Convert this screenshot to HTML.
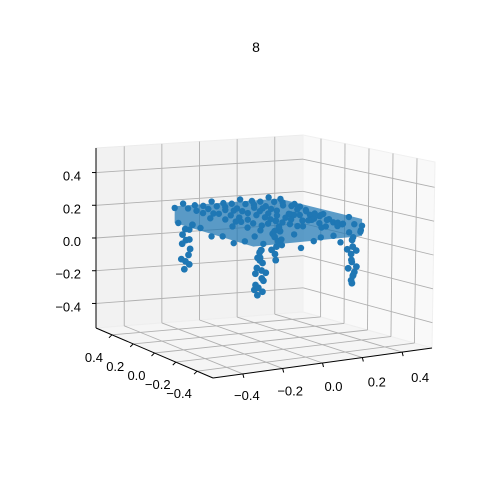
<!DOCTYPE html>
<html><head><meta charset="utf-8">
<style>
html,body{margin:0;padding:0;background:#fff;}
svg{display:block;font-family:"Liberation Sans","DejaVu Sans",sans-serif;}
</style></head>
<body>
<svg id="chart" width="500" height="500" viewBox="0 0 500 500" xmlns="http://www.w3.org/2000/svg">
<rect width="500" height="500" fill="#fff"/>
<text x="256" y="52" text-anchor="middle" font-size="14" fill="#000">8</text>
<g id="panes"></g><g id="grid"></g><g id="axes"></g><g id="slab"></g><g id="pts"></g>
</svg>
<script>
const ticks = [-0.4, -0.2, 0.0, 0.2, 0.4];
const tickLabels = ["\u22120.4", "\u22120.2", "0.0", "0.2", "0.4"];
const topPts = [
[-0.25,-0.37,0.17],[-0.2,-0.36,0.12],[-0.15,-0.37,0.19],[-0.1,-0.35,0.1],[-0.05,-0.37,0.16],[0,-0.36,0.2],[0.05,-0.37,0.11],[0.1,-0.35,0.18],[0.15,-0.37,0.13],[0.2,-0.36,0.19],[0.25,-0.37,0.11],[0.3,-0.36,0.17],
[-0.22,-0.38,0.09],[-0.12,-0.38,0.14],[-0.02,-0.38,0.08],[0.08,-0.38,0.13],[0.18,-0.38,0.09],[0.28,-0.38,0.14],
[-0.23,-0.27,0.2],[-0.17,-0.28,0.18],[-0.12,-0.26,0.21],[-0.07,-0.27,0.19],[-0.02,-0.28,0.2],[0.03,-0.26,0.18],[0.08,-0.27,0.21],[0.13,-0.28,0.19],[0.18,-0.26,0.2],[0.23,-0.27,0.18],[0.28,-0.28,0.21],[0.32,-0.26,0.16],
[-0.25,-0.17,0.19],[-0.2,-0.16,0.21],[-0.15,-0.18,0.2],[-0.1,-0.17,0.18],[-0.05,-0.16,0.21],[0,-0.18,0.19],[0.05,-0.17,0.2],[0.1,-0.16,0.22],[0.15,-0.18,0.19],[0.2,-0.17,0.21],[0.25,-0.16,0.18],[0.31,-0.18,0.15],
[-0.23,-0.07,0.21],[-0.17,-0.06,0.19],[-0.12,-0.08,0.2],[-0.07,-0.07,0.22],[-0.02,-0.06,0.2],[0.03,-0.08,0.21],[0.08,-0.07,0.19],[0.13,-0.06,0.2],[0.18,-0.08,0.22],[0.23,-0.07,0.2],[0.28,-0.06,0.19],[0.32,-0.08,0.14],
[-0.25,0.03,0.2],[-0.2,0.04,0.22],[-0.15,0.02,0.21],[-0.1,0.03,0.19],[-0.05,0.04,0.21],[0,0.02,0.22],[0.05,0.03,0.2],[0.1,0.04,0.21],[0.15,0.02,0.19],[0.2,0.03,0.21],[0.25,0.04,0.2],[0.31,0.02,0.16],
[-0.23,0.13,0.21],[-0.17,0.14,0.2],[-0.12,0.12,0.22],[-0.07,0.13,0.21],[-0.02,0.14,0.2],[0.03,0.12,0.22],[0.08,0.13,0.21],[0.13,0.14,0.2],[0.18,0.12,0.22],[0.23,0.13,0.21],[0.28,0.14,0.2],[0.32,0.12,0.15],
[-0.25,0.23,0.22],[-0.2,0.24,0.2],[-0.15,0.22,0.21],[-0.1,0.23,0.22],[-0.05,0.24,0.21],[0,0.22,0.2],[0.05,0.23,0.22],[0.1,0.24,0.21],[0.15,0.22,0.2],[0.2,0.23,0.22],[0.25,0.24,0.21],[0.3,0.22,0.2],
[-0.25,0.35,0.2],[-0.2,0.36,0.22],[-0.15,0.34,0.21],[-0.1,0.35,0.2],[-0.05,0.36,0.22],[0,0.34,0.21],[0.05,0.35,0.2],[0.1,0.36,0.22],[0.15,0.34,0.21],[0.2,0.35,0.2],[0.25,0.36,0.22],[0.3,0.34,0.21],
[-0.26,0.3,0.12],[-0.26,0.2,0.1],[-0.26,0.1,0.13],[-0.26,0,0.1],[-0.26,-0.1,0.12],[-0.26,-0.2,0.1],[-0.26,-0.3,0.13],
[0.33,0.3,0.12],[0.33,0.2,0.1],[0.33,0.1,0.13],[0.33,0,0.1],[0.33,-0.1,0.12],[0.33,-0.2,0.1],[0.33,-0.3,0.13]
];
const legPts = [
[-0.21,-0.33,-0.18],[-0.19,-0.34,-0.16],[-0.2,-0.32,-0.14],[-0.22,-0.33,-0.12],[-0.18,-0.33,-0.1],[-0.2,-0.35,-0.08],[-0.21,-0.31,-0.06],[-0.19,-0.33,-0.04],[-0.22,-0.34,-0.02],[-0.18,-0.32,0],[-0.2,-0.33,0.02],[-0.21,-0.35,0.04],[-0.19,-0.31,0.06],[-0.2,-0.34,0.08],[-0.22,-0.32,-0.15],[-0.18,-0.35,-0.05],[-0.2,-0.31,0.03],
[-0.21,0.33,-0.17],[-0.19,0.32,-0.14],[-0.22,0.34,-0.11],[-0.2,0.31,-0.08],[-0.18,0.33,-0.05],[-0.21,0.35,-0.02],[-0.19,0.32,0.01],[-0.22,0.33,0.04],[-0.2,0.34,0.07],[-0.18,0.31,0.1],[-0.21,0.32,-0.12],[-0.19,0.35,0.0],
[0.27,-0.33,-0.17],[0.26,-0.34,-0.15],[0.28,-0.32,-0.13],[0.27,-0.35,-0.1],[0.25,-0.33,-0.08],[0.28,-0.31,-0.05],[0.26,-0.34,-0.03],[0.27,-0.32,0],[0.29,-0.33,0.02],[0.26,-0.35,0.05],[0.28,-0.31,0.08],[0.27,-0.34,-0.12],[0.25,-0.32,0.03],[0.28,-0.35,-0.07],
[0.27,0.33,-0.16],[0.26,0.32,-0.12],[0.28,0.34,-0.08],[0.27,0.31,-0.04],[0.26,0.34,0],[0.28,0.32,0.04],[0.27,0.33,0.08],[0.26,0.35,-0.1],[0.28,0.31,0.02],[0.27,0.34,-0.02]
];
const NS='http://www.w3.org/2000/svg';
const LO=-0.55, HI=0.55;
const C = {
 '000':[213,378],'100':[432,348],'010':[96,328],'110':[303,312],
 '001':[216,180],'101':[435,162],'011':[96,148],'111':[303,135]
};
function proj(x,y,z){
 const u=(x-LO)/(HI-LO), v=(y-LO)/(HI-LO), w=(z-LO)/(HI-LO);
 let px=0,py=0;
 for(const a of [0,1])for(const b of [0,1])for(const c of [0,1]){
  const wt=(a?u:1-u)*(b?v:1-v)*(c?w:1-w);
  const p=C[''+a+b+c]; px+=wt*p[0]; py+=wt*p[1];
 }
 return [px,py];
}
function el(tag,attrs,parent){const e=document.createElementNS(NS,tag);for(const k in attrs)e.setAttribute(k,attrs[k]);parent.appendChild(e);return e;}
const panes=document.getElementById('panes'), grid=document.getElementById('grid'), axes=document.getElementById('axes'), pts=document.getElementById('pts'), slab=document.getElementById('slab');
function poly(list){return list.map(p=>p.join(',')).join(' ');}
let e;
e=el('polygon',{points:poly([proj(LO,HI,LO),proj(HI,HI,LO),proj(HI,HI,HI),proj(LO,HI,HI)]),fill:'#f2f2f2',stroke:'#ececec'},panes);


e=el('polygon',{points:poly([proj(HI,HI,LO),proj(HI,LO,LO),proj(HI,LO,HI),proj(HI,HI,HI)]),fill:'#f9f9f9',stroke:'#f0f0f0'},panes);


e=el('polygon',{points:poly([proj(LO,LO,LO),proj(HI,LO,LO),proj(HI,HI,LO),proj(LO,HI,LO)]),fill:'#f5f5f5',stroke:'#eeeeee'},panes);


function gl(a,b,name){const p=proj(...a),q=proj(...b);
 const l=el('line',{x1:p[0],y1:p[1],x2:q[0],y2:q[1],stroke:'#b0b0b0','stroke-width':0.9},grid);
 
 }
ticks.forEach(t=>{
 gl([t,HI,LO],[t,HI,HI],'x-grid-line'); gl([t,LO,LO],[t,HI,LO],'x-grid-line');
 gl([HI,t,LO],[HI,t,HI],'y-grid-line'); gl([LO,t,LO],[HI,t,LO],'y-grid-line');
 gl([LO,HI,t],[HI,HI,t],'z-grid-line'); gl([HI,HI,t],[HI,LO,t],'z-grid-line');
});
function al(a,b,name){const p=proj(...a),q=proj(...b);
 const l=el('line',{x1:p[0],y1:p[1],x2:q[0],y2:q[1],stroke:'#000','stroke-width':1},axes);
 
 }
al([LO,LO,LO],[HI,LO,LO],'x-axis-line');
al([LO,LO,LO],[LO,HI,LO],'y-axis-line');
al([LO,HI,LO],[LO,HI,HI],'z-axis-line');
function txt(x,y,s,anchor,name){const t=el('text',{x:x,y:y,'font-size':13,'text-anchor':anchor,fill:'#000'},axes);t.textContent=s;
 
 }
ticks.forEach((t,i)=>{
 const f=(t+0.4)/0.8;
 let p=proj(t,LO,LO);
 el('line',{x1:p[0],y1:p[1],x2:p[0]+1,y2:p[1]+4,stroke:'#000'},axes);
 txt(p[0]+4+14*f,p[1]+26+4*f,tickLabels[i],'middle','x-tick-label');
 p=proj(LO,t,LO);
 el('line',{x1:p[0],y1:p[1],x2:p[0]-3,y2:p[1]+3,stroke:'#000'},axes);
 txt(p[0]-18,p[1]+27,tickLabels[i],'middle','y-tick-label');
 p=proj(LO,HI,t);
 el('line',{x1:p[0],y1:p[1],x2:p[0]-4,y2:p[1],stroke:'#000'},axes);
 txt(p[0]-15,p[1]+8,tickLabels[i],'end','z-tick-label');
});
// table-top slab body derived from the extent of the top points (slightly inset)
const txs=topPts.map(p=>p[0]), tys=topPts.map(p=>p[1]), tzs=topPts.map(p=>p[2]);
const x0=Math.min(...txs)+0.01, x1=Math.max(...txs)-0.03, y0=Math.min(...tys)+0.02, y1=Math.max(...tys)-0.01;
const zT=Math.max(...tzs)-0.01, zB=Math.min(...tzs)+0.03;
const slabPts=[proj(x0,y1,zT),proj(x1,y1,zT),proj(x1,y0,zT),proj(x1,y0,zB),proj(x0,y0,zB),proj(x0,y1,zB)];
e=el('polygon',{points:poly(slabPts),fill:'#1f77b4','fill-opacity':0.72,'stroke-linejoin':'round'},slab);


const all=topPts.map(p=>[p,3.2]).concat(legPts.map(p=>[p,3.4]));
all.sort((a,b)=>(b[0][1]-b[0][0])-(a[0][1]-a[0][0]));
all.forEach(([p,r])=>{const s=proj(p[0],p[1],p[2]);
 const c=el('circle',{cx:s[0],cy:s[1],r:r,fill:'#1f77b4'},pts);
 
 });
</script>
</body></html>
